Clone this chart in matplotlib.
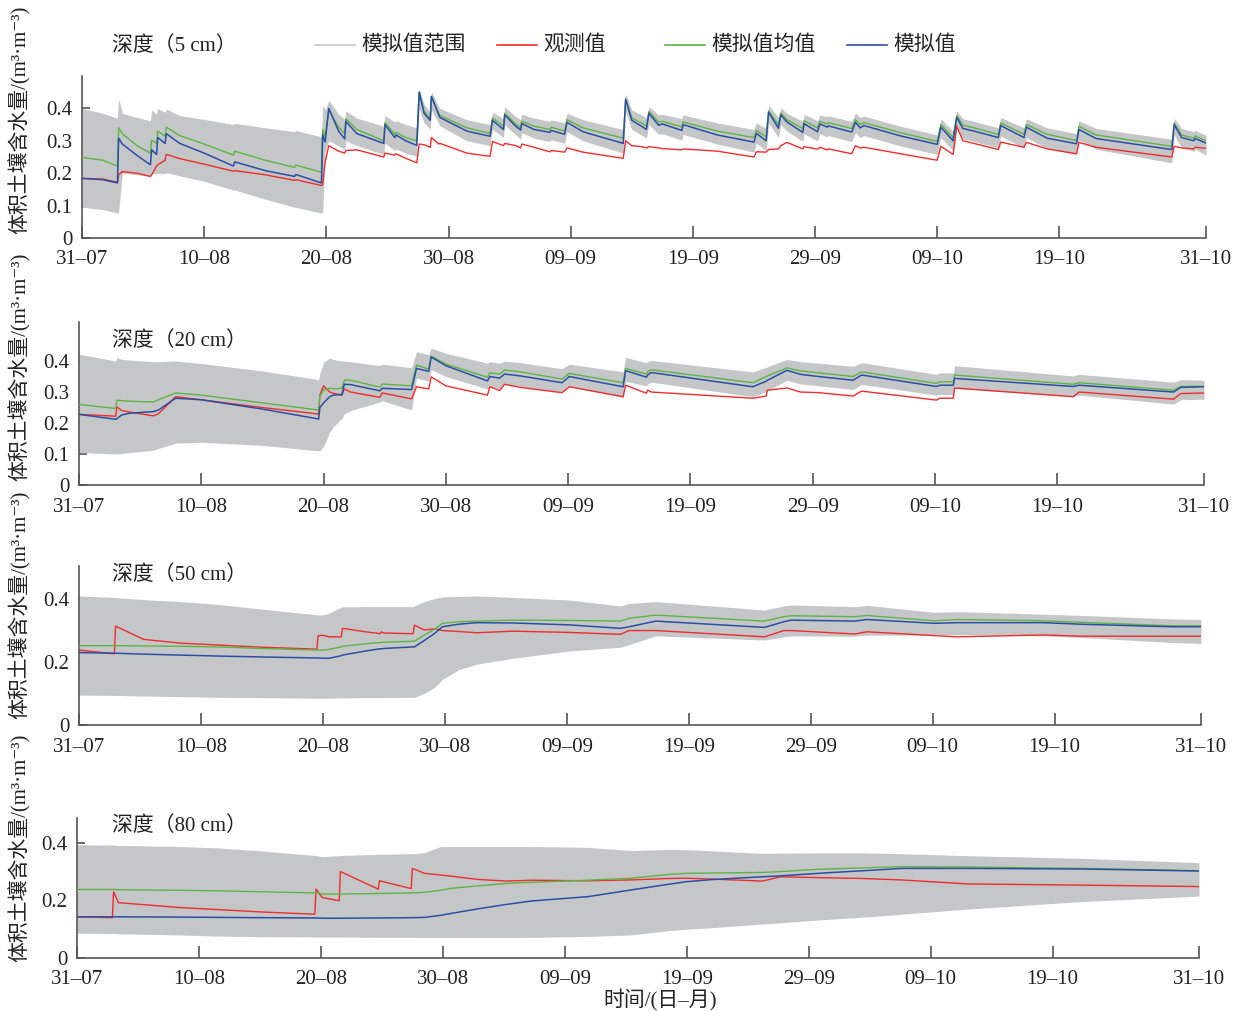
import numpy as np
import matplotlib
matplotlib.use("Agg")
import matplotlib.pyplot as plt
from matplotlib.lines import Line2D

plt.rcParams['font.family'] = ['Liberation Serif', 'Noto Sans CJK SC', 'DejaVu Sans']

# days since 31-07
tick_days = [0, 10, 20, 30, 40, 50, 60, 70, 80, 92]
tick_labels = ['31–07', '10–08', '20–08', '30–08', '09–09', '19–09',
               '29–09', '09–10', '19–10', '31–10']
depths = ['5 cm', '20 cm', '50 cm', '80 cm']

# ---- 5 cm ----
p1_t = [0.0, 1.7, 2.9, 3.0, 3.3, 4.5, 5.6, 5.7, 6.1, 6.2, 6.8, 6.9, 8.0, 10.0, 12.4, 12.5,
        15.0, 17.4, 17.5, 19.6, 19.7, 19.9, 20.2, 21.0, 21.5, 21.6, 22.5, 24.7, 24.8, 25.6,
        25.7, 26.5, 27.4, 27.6, 28.0, 28.5, 28.6, 29.2, 29.3, 31.5, 33.4, 33.6, 34.5, 34.6,
        35.5, 35.9, 36.0, 37.0, 38.3, 38.4, 39.5, 39.7, 41.0, 44.3, 44.5, 45.0, 45.8, 46.2,
        46.4, 47.2, 47.5, 49.1, 49.2, 52.0, 55.0, 55.2, 56.0, 56.2, 57.0, 57.2, 57.7, 59.0,
        59.1, 60.2, 60.4, 61.0, 61.1, 63.0, 63.3, 63.7, 64.0, 67.0, 70.0, 70.3, 71.3, 71.6,
        72.1, 73.0, 75.0, 75.2, 77.1, 77.3, 79.0, 81.4, 81.6, 83.0, 89.2, 89.4, 90.0, 91.0,
        91.1, 92.0]
p1_mean = [.249, .240, .222, .340, .322, .285, .262, .302, .292, .330, .314, .342, .316, .290, .256, .268,
           .240, .218, .225, .203, .335, .312, .395, .342, .322, .368, .335, .300, .356, .320,
           .326, .310, .300, .450, .392, .366, .437, .385, .378, .340, .323, .370, .345, .385,
           .352, .340, .360, .345, .335, .342, .330, .365, .340, .308, .430, .370, .355, .345,
           .390, .358, .360, .343, .358, .330, .310, .332, .312, .392, .350, .385, .365, .338,
           .362, .340, .360, .352, .356, .338, .365, .350, .356, .325, .298, .350, .310, .378,
           .348, .340, .320, .355, .320, .350, .320, .301, .345, .318, .283, .355, .318, .308,
           .315, .300]
p1_sim = [.184, .180, .170, .308, .290, .255, .226, .272, .258, .310, .292, .322, .292, .262, .222, .235,
          .208, .190, .196, .170, .318, .296, .400, .330, .306, .360, .322, .292, .350, .310,
          .318, .300, .286, .450, .385, .363, .437, .380, .372, .330, .314, .363, .335, .380,
          .345, .333, .353, .335, .326, .332, .320, .357, .328, .292, .428, .363, .345, .335,
          .385, .348, .352, .332, .350, .318, .296, .323, .300, .388, .339, .380, .358, .326,
          .353, .328, .352, .342, .346, .327, .357, .340, .347, .315, .289, .342, .300, .372,
          .338, .330, .310, .347, .310, .342, .308, .291, .335, .307, .273, .350, .310, .300,
          .307, .293]
p1_obs = [.184, .182, .172, .195, .205, .200, .190, .195, .222, .226, .240, .258, .245, .228, .206, .208,
          .195, .178, .180, .162, .165, .235, .285, .268, .262, .270, .272, .250, .262, .256,
          .260, .246, .232, .290, .288, .280, .310, .290, .292, .262, .252, .298, .285, .292,
          .285, .278, .290, .280, .266, .270, .265, .278, .265, .246, .300, .285, .282, .278,
          .282, .278, .276, .272, .275, .268, .250, .266, .265, .273, .275, .285, .295, .275,
          .282, .274, .280, .272, .275, .260, .285, .278, .280, .260, .240, .283, .258, .345,
          .300, .292, .273, .296, .280, .295, .275, .260, .295, .280, .250, .283, .278, .275,
          .280, .277]
p1_hi = [.400, .385, .370, .430, .385, .372, .362, .395, .382, .400, .388, .398, .378, .366, .350, .354,
         .340, .328, .332, .312, .410, .395, .425, .382, .366, .392, .370, .345, .378, .358,
         .362, .350, .340, .462, .412, .388, .452, .405, .400, .365, .350, .388, .368, .405,
         .375, .365, .382, .370, .360, .365, .355, .385, .365, .335, .445, .395, .380, .370,
         .405, .380, .382, .368, .380, .355, .335, .355, .338, .410, .372, .402, .385, .360,
         .382, .362, .380, .374, .377, .360, .385, .372, .376, .345, .318, .368, .330, .392,
         .368, .360, .340, .372, .340, .368, .340, .322, .362, .338, .305, .370, .338, .328,
         .333, .317]
p1_lo = [.095, .088, .077, .080, .200, .195, .190, .198, .198, .200, .198, .202, .192, .175, .148, .148,
         .120, .095, .095, .077, .077, .265, .300, .285, .272, .300, .285, .258, .292, .270,
         .275, .262, .252, .400, .355, .335, .395, .352, .346, .300, .285, .335, .310, .350,
         .318, .305, .325, .308, .298, .303, .292, .328, .300, .262, .390, .335, .318, .308,
         .350, .320, .322, .302, .320, .290, .265, .292, .270, .355, .310, .350, .330, .298,
         .322, .300, .322, .312, .316, .297, .325, .310, .316, .284, .258, .310, .270, .340,
         .306, .298, .278, .315, .278, .310, .276, .258, .302, .274, .232, .318, .278, .268,
         .275, .255]

# ---- 20 cm ----
p2_t = [0.0, 3.0, 3.1, 3.5, 4.2, 6.1, 6.5, 7.9, 10.0, 15.0, 19.6, 19.7, 20.0, 20.5, 20.8,
        21.5, 21.7, 22.2, 24.6, 24.8, 27.2, 27.6, 28.6, 28.8, 30.0, 33.4, 33.6, 34.4, 34.8,
        36.1, 39.5, 40.1, 44.5, 44.7, 46.4, 46.5, 46.8, 55.1, 56.2, 56.3, 57.9, 59.0, 60.5,
        63.3, 64.0, 70.1, 70.4, 71.5, 71.6, 81.3, 81.8, 89.5, 90.1, 92.0]
p2_mean = [.260, .247, .274, .272, .270, .268, .275, .297, .290, .265, .242, .287, .307, .312, .310,
           .312, .339, .338, .316, .326, .320, .387, .374, .416, .390, .348, .362, .358, .371,
           .365, .342, .360, .330, .376, .358, .365, .372, .330, .350, .352, .378, .368, .362,
           .350, .365, .328, .333, .333, .355, .325, .330, .306, .318, .319]
p2_sim = [.228, .212, .214, .226, .232, .237, .242, .280, .275, .245, .213, .250, .265, .285, .290,
          .292, .325, .324, .304, .312, .308, .376, .367, .413, .385, .336, .350, .345, .358,
          .352, .330, .350, .317, .369, .348, .355, .363, .317, .335, .338, .370, .357, .350,
          .338, .355, .318, .322, .322, .344, .318, .322, .300, .315, .317]
p2_obs = [.228, .222, .252, .240, .235, .223, .230, .285, .275, .250, .229, .290, .320, .300, .296,
          .290, .310, .300, .283, .297, .278, .317, .310, .349, .320, .290, .317, .305, .325,
          .315, .298, .317, .285, .322, .296, .306, .300, .280, .287, .306, .313, .300, .298,
          .287, .303, .274, .280, .280, .313, .285, .300, .277, .295, .297]
p2_hi = [.422, .400, .412, .405, .403, .398, .398, .400, .392, .368, .340, .360, .395, .410, .405,
         .400, .400, .398, .385, .390, .378, .430, .420, .442, .425, .393, .398, .393, .400,
         .395, .375, .390, .365, .412, .395, .398, .402, .365, .380, .382, .405, .398, .393,
         .383, .395, .357, .362, .362, .385, .352, .357, .332, .340, .338]
p2_lo = [.105, .100, .100, .102, .105, .112, .118, .135, .138, .128, .110, .110, .125, .170, .188,
         .215, .230, .240, .268, .272, .242, .345, .335, .372, .350, .310, .318, .312, .325,
         .318, .300, .318, .282, .335, .320, .326, .332, .285, .302, .305, .338, .326, .320,
         .308, .325, .290, .292, .292, .312, .285, .290, .261, .275, .277]

# ---- 50 cm ----
p3_t = [0.0, 2.9, 3.0, 5.3, 8.3, 11.4, 15.0, 19.5, 19.6, 20.0, 20.5, 21.5, 21.6, 23.5, 24.7,
        24.8, 25.0, 27.4, 27.5, 28.3, 29.2, 29.8, 31.1, 32.6, 35.6, 40.2, 44.4, 45.1, 47.3,
        56.2, 57.8, 58.4, 63.6, 64.6, 70.1, 72.0, 79.1, 82.2, 89.6, 92.0]
p3_mean = [.252, .252, .252, .251, .250, .248, .243, .238, .238, .238, .240, .248, .250, .258, .262,
           .262, .263, .266, .266, .285, .305, .323, .328, .330, .333, .332, .330, .339, .349,
           .330, .344, .347, .344, .348, .331, .335, .331, .326, .315, .315]
p3_sim = [.230, .228, .228, .225, .222, .219, .216, .213, .213, .212, .212, .220, .222, .235, .242,
          .242, .243, .248, .248, .268, .292, .312, .320, .325, .324, .318, .307, .312, .330,
          .310, .328, .333, .330, .335, .323, .325, .325, .320, .312, .312]
p3_obs = [.238, .226, .314, .272, .260, .254, .247, .241, .283, .285, .280, .280, .307, .296, .290,
          .296, .292, .290, .317, .302, .305, .300, .297, .293, .298, .294, .288, .300, .300,
          .280, .300, .300, .289, .296, .284, .280, .286, .282, .282, .282]
p3_hi = [.410, .405, .405, .398, .392, .383, .368, .350, .349, .350, .355, .374, .375, .376, .376,
         .376, .376, .376, .378, .392, .402, .407, .408, .410, .405, .397, .378, .386, .392,
         .365, .378, .381, .376, .380, .358, .360, .352, .348, .337, .335]
p3_lo = [.095, .094, .094, .092, .090, .088, .087, .085, .085, .085, .085, .086, .086, .087, .087,
         .087, .087, .088, .088, .100, .121, .145, .175, .193, .212, .235, .247, .255, .283,
         .270, .280, .283, .282, .285, .286, .287, .283, .278, .262, .259]

# ---- 80 cm ----
p4_t = [0.0, 2.9, 3.0, 3.4, 8.5, 11.6, 15.0, 19.5, 19.6, 20.1, 21.5, 21.6, 24.7, 24.8, 27.4,
        27.5, 28.5, 29.8, 30.7, 32.8, 35.2, 37.3, 41.9, 45.4, 48.5, 50.0, 52.0, 56.2, 57.7,
        60.8, 64.5, 67.6, 73.1, 82.4, 92.0]
p4_mean = [.238, .238, .238, .237, .235, .233, .230, .226, .226, .222, .222, .222, .224, .224, .226,
           .226, .228, .235, .242, .250, .259, .263, .270, .277, .290, .294, .295, .297, .300,
           .308, .313, .317, .316, .311, .303]
p4_sim = [.143, .143, .143, .143, .142, .141, .140, .139, .139, .138, .138, .138, .139, .139, .140,
          .140, .141, .148, .155, .170, .186, .198, .213, .236, .256, .265, .272, .282, .285,
          .294, .303, .311, .311, .309, .302]
p4_obs = [.143, .140, .230, .192, .175, .168, .160, .152, .239, .210, .199, .300, .239, .268, .241,
          .311, .294, .288, .284, .273, .267, .270, .268, .271, .276, .277, .274, .267, .282,
          .279, .276, .271, .257, .253, .248]
p4_hi = [.393, .392, .392, .391, .387, .382, .372, .356, .355, .352, .355, .356, .360, .360, .362,
         .362, .366, .387, .387, .387, .387, .387, .384, .373, .377, .376, .372, .363, .364,
         .365, .365, .362, .355, .346, .331]
p4_lo = [.086, .085, .085, .084, .080, .076, .074, .073, .073, .073, .073, .073, .072, .072, .072,
         .072, .071, .071, .071, .071, .071, .072, .075, .080, .095, .100, .105, .118, .122,
         .132, .142, .152, .170, .196, .215]

panels = [
    (p1_t, p1_mean, p1_sim, p1_obs, p1_hi, p1_lo),
    (p2_t, p2_mean, p2_sim, p2_obs, p2_hi, p2_lo),
    (p3_t, p3_mean, p3_sim, p3_obs, p3_hi, p3_lo),
    (p4_t, p4_mean, p4_sim, p4_obs, p4_hi, p4_lo),
]

c_range = '#c5c6c8'
c_obs = '#ee2d2d'
c_mean = '#5cb444'
c_sim = '#2b4ea5'
axis_col = '#555555'
txt_col = '#222222'

W, H = 1245, 1011
fig = plt.figure(figsize=(W / 100, H / 100), dpi=100)

# axes boxes in pixels: left, right, y of zero line, top; y max
boxes = [(82, 1206, 238, 76, 0.5), (79, 1204, 485, 322, 0.526),
         (79, 1201, 725, 566, 0.505), (77, 1199, 958, 818, 0.486)]
yticks = [[0, 0.1, 0.2, 0.3, 0.4], [0, 0.1, 0.2, 0.3, 0.4], [0, 0.2, 0.4], [0, 0.2, 0.4]]
label_y = [46, 341, 575, 826]
ylabel_y = [120, 367, 605, 848]

for i, (t, mean, sim, obs, hi, lo) in enumerate(panels):
    l, r, y0, top, ymax = boxes[i]
    ax = fig.add_axes([l / W, 1 - y0 / H, (r - l) / W, (y0 - top) / H])
    ax.fill_between(t, lo, hi, color=c_range, lw=0, zorder=1)
    ax.plot(t, obs, color=c_obs, lw=1.0, zorder=3)
    ax.plot(t, mean, color=c_mean, lw=1.0, zorder=3)
    ax.plot(t, sim, color=c_sim, lw=1.1, zorder=4)
    ax.set_xlim(0, 92)
    ax.set_ylim(0, ymax)
    ax.set_xticks(tick_days)
    ax.set_xticklabels(tick_labels)
    ax.set_yticks(yticks[i])
    ax.set_yticklabels(['0' if v == 0 else f'{v:g}' for v in yticks[i]])
    ax.set_axisbelow(True)
    for s in ['top', 'right']:
        ax.spines[s].set_visible(False)
    for s in ['left', 'bottom']:
        ax.spines[s].set_color(axis_col)
        ax.spines[s].set_linewidth(1.2)
    ax.tick_params(axis='x', direction='in', length=9, width=1.2, color=axis_col,
                   labelsize=15, pad=9, labelcolor=txt_col)
    ax.tick_params(axis='y', direction='in', length=6, width=1.2, color=axis_col,
                   labelsize=15, pad=7, labelcolor=txt_col)
    fig.text(112 / W, 1 - label_y[i] / H, f'深度（{depths[i]}）', fontsize=15,
             ha='left', va='center', color=txt_col)
    fig.text(20 / W, 1 - ylabel_y[i] / H, '体积土壤含水量/(m³·m⁻³)',
             rotation=90, ha='center', va='center', fontsize=15, color=txt_col)

fig.text(660 / W, 1 - 1000 / H, '时间/(日–月)', ha='center', va='center',
         fontsize=15, color=txt_col)

# legend
entries = [(c_range, '模拟值范围', 315), (c_obs, '观测值', 497),
           (c_mean, '模拟值均值', 665), (c_sim, '模拟值', 847)]
ly = 1 - 45 / H
for col, txt, x in entries:
    fig.add_artist(Line2D([x / W, (x + 40) / W], [ly, ly], color=col, lw=1.2,
                          transform=fig.transFigure))
    fig.text((x + 46) / W, ly, txt, ha='left', va='center', fontsize=15, color=txt_col)

fig.savefig('out.png', dpi=100)
